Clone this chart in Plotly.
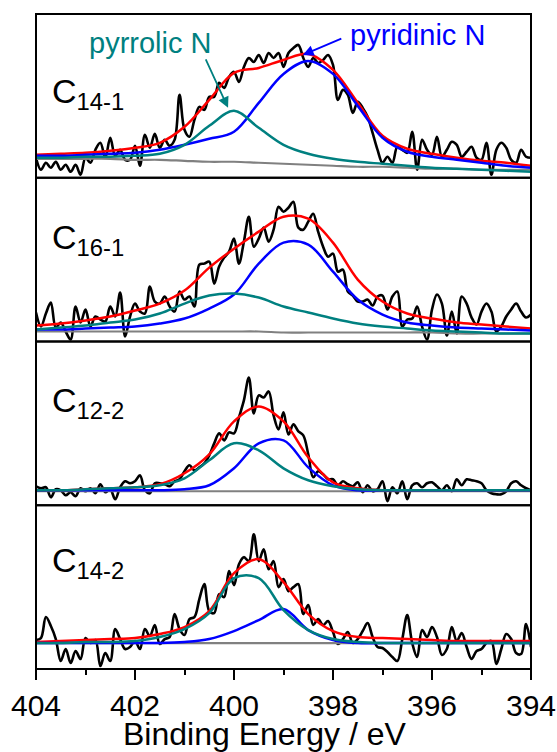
import numpy as np
import plotly.graph_objects as go
from plotly.subplots import make_subplots

# Binding energy grids (eV)
energy_raw = np.round(np.linspace(404, 394, 101), 2)
energy_fit = np.round(np.linspace(404, 394, 21), 2)

sample_labels = ["C<sub>14-1</sub>", "C<sub>16-1</sub>", "C<sub>12-2</sub>", "C<sub>14-2</sub>"]

# Raw N1s intensity (a.u.), one value per 0.1 eV from 404 to 394
raw_c14_1 = [20,8,15,10,16,8,13,6,13,3, 20,15,28,35,20,40,22,28,18,18,
             32,12,43,30,44,30,38,32,38,83, 48,41,58,71,68,81,81,95,90,101,
             106,96,111,120,116,123,115,125,120,125, 111,125,130,133,120,111,120,115,118,123,
             113,78,88,83,65,76,70,61,45,28, 15,21,15,31,28,25,46,8,38,28,
             23,41,21,28,36,33,21,26,31,20, 18,35,3,28,35,30,18,15,28,21, 20]
raw_c16_1 = [29,15,28,39,14,19,10,2,35,19, 32,15,25,22,20,35,25,49,5,25,
             38,30,28,55,40,38,45,35,30,50, 42,45,35,77,78,80,58,75,84,90,
             103,78,100,125,95,103,114,100,112,135, 130,134,140,114,112,120,128,110,95,85,
             88,70,72,50,46,40,40,42,36,45, 46,32,45,50,15,22,23,35,15,2,
             32,47,38,6,30,8,45,38,24,17, 30,38,30,10,15,25,32,38,30,24, 27]
raw_c12_2 = [19,17,18,8,16,15,10,13,9,17, 14,17,12,21,13,16,6,18,24,22,
             24,30,15,12,22,22,21,19,24,26, 34,40,35,38,42,50,62,72,65,73,
             72,88,105,128,92,110,108,114,90,76, 93,71,81,74,70,51,28,34,31,26,
             26,20,24,21,19,23,13,20,14,16, 24,4,18,12,24,6,20,22,18,22,
             23,19,15,20,14,26,20,26,25,24, 22,15,12,11,11,14,22,24,20,17, 15]
raw_c14_2 = [29,31,52,43,30,8,20,6,18,10, 31,26,29,3,16,8,40,30,20,22,
             28,20,40,33,44,25,30,32,55,40, 34,50,52,70,85,58,56,75,72,98,
             84,105,112,108,135,108,120,100,108,82, 90,78,82,85,55,64,44,50,44,48,
             37,25,30,37,26,30,38,46,32,22, 21,17,12,8,30,54,26,12,39,32,
             42,32,14,20,42,28,36,22,10,18, 20,26,28,5,20,35,30,16,15,45, 22]

# Fitted curves, one value per 0.5 eV from 404 to 394
fit_c14_1 = [23,24,25,27,30,35,51,78,105,110,118,124,108,75,42,29,24,20,17,15,12]
pyridinic_c14_1 = [22,22,23,24,25,28,33,39,46,75,104,117,104,72,40,26,21,18,15,12,10]
pyrrolic_c14_1 = [20,20,21,21,22,24,33,52,67,50,33,24,19,16,14,12,10,9,8,7,6]
background_c14_1 = [19,19,19,19,18,18,17,16,16,15,14,13,12,11,11,10,9,9,8,8,8]

fit_c16_1 = [16,18,21,25,31,38,51,74,93,110,125,123,99,62,40,28,23,19,17,15,13]
pyridinic_c16_1 = [12,12,13,14,15,18,23,33,47,78,99,97,70,42,27,19,16,14,13,12,11]
pyrrolic_c16_1 = [12,14,16,19,22,28,38,46,48,44,35,29,23,18,15,13,11,10,9,8,8]
background_c16_1 = [10,10,10,10,10,10,10,10,10,10,9,9,9,9,9,9,9,8,8,8,8]

fit_c12_2 = [15,15,16,17,18,21,32,51,84,99,84,48,23,17,15,15,15,15,15,15,15]
pyridinic_c12_2 = [15,15,15,15,15,15,16,20,37,62,65,38,20,15,15,15,15,15,15,15,15]
pyrrolic_c12_2 = [15,15,16,17,18,20,27,45,62,55,37,25,19,16,15,15,15,15,15,15,15]
background_c12_2 = [14]*21

fit_c14_2 = [27,28,29,30,31,35,42,58,96,110,87,55,38,32,31,30,29,28,28,28,28]
pyridinic_c14_2 = [26,26,26,26,26,26,27,30,38,49,60,39,29,26,26,26,26,26,26,26,26]
pyrrolic_c14_2 = [26,26,27,27,28,32,40,56,91,91,59,39,30,27,26,26,26,26,26,26,26]
background_c14_2 = [26]*21

panels = [
    (raw_c14_1, background_c14_1, fit_c14_1, pyridinic_c14_1, pyrrolic_c14_1),
    (raw_c16_1, background_c16_1, fit_c16_1, pyridinic_c16_1, pyrrolic_c16_1),
    (raw_c12_2, background_c12_2, fit_c12_2, pyridinic_c12_2, pyrrolic_c12_2),
    (raw_c14_2, background_c14_2, fit_c14_2, pyridinic_c14_2, pyrrolic_c14_2),
]

TEAL = "#008080"
BLUE = "#0000FF"
RED = "#FF0000"
GRAY = "#808080"
FONT = "Liberation Sans, Arial, sans-serif"

fig = make_subplots(rows=4, cols=1, shared_xaxes=True, vertical_spacing=0)

for r, (raw, bg, fit, pyr_d, pyr_l) in enumerate(panels, start=1):
    fig.add_trace(go.Scatter(x=energy_raw, y=raw, mode="lines",
                             line=dict(color="black", width=2.6, shape="spline", smoothing=1.0)),
                  row=r, col=1)
    fig.add_trace(go.Scatter(x=energy_fit, y=bg, mode="lines",
                             line=dict(color=GRAY, width=2.2, shape="spline")), row=r, col=1)
    fig.add_trace(go.Scatter(x=energy_fit, y=fit, mode="lines",
                             line=dict(color=RED, width=2.5, shape="spline")), row=r, col=1)
    fig.add_trace(go.Scatter(x=energy_fit, y=pyr_d, mode="lines",
                             line=dict(color=BLUE, width=2.5, shape="spline")), row=r, col=1)
    fig.add_trace(go.Scatter(x=energy_fit, y=pyr_l, mode="lines",
                             line=dict(color=TEAL, width=2.5, shape="spline")), row=r, col=1)

fig.update_xaxes(range=[404, 394], showline=False, showgrid=False, zeroline=False,
                 ticks="", showticklabels=False)
fig.update_xaxes(row=4, col=1, ticks="outside", ticklen=10, tickwidth=1.5, tickcolor="black",
                 tickvals=[404, 402, 400, 398, 396, 394], showticklabels=True,
                 tickfont=dict(size=30, family=FONT, color="black"),
                 minor=dict(tickvals=[403, 401, 399, 397, 395], ticks="outside", ticklen=5,
                            tickwidth=1.5, tickcolor="black"))
fig.update_yaxes(range=[0, 164], showline=False, showgrid=False, zeroline=False,
                 showticklabels=False, ticks="")

# panel frames
shapes = []
for r in range(1, 5):
    sfx = "" if r == 1 else str(r)
    shapes.append(dict(type="rect", xref="x" + sfx + " domain", yref="y" + sfx + " domain",
                       x0=0, x1=1, y0=0, y1=1, line=dict(color="black", width=2),
                       fillcolor="rgba(0,0,0,0)", layer="above"))

label_y = [84, 102, 103, 107]
annotations = []
for r, (lab, ly) in enumerate(zip(sample_labels, label_y), start=1):
    sfx = "" if r == 1 else str(r)
    annotations.append(dict(x=403.72, y=ly, xref="x" + sfx, yref="y" + sfx, text=lab,
                            showarrow=False, xanchor="left", yanchor="middle",
                            font=dict(size=34, family=FONT, color="black")))

annotations += [
    dict(x=401.70, y=135, xref="x", yref="y", text="pyrrolic N", showarrow=False,
         font=dict(size=29, family=FONT, color=TEAL)),
    dict(x=396.29, y=143, xref="x", yref="y", text="pyridinic N", showarrow=False,
         font=dict(size=29, family=FONT, color=BLUE)),
    dict(x=400.12, y=70, xref="x", yref="y", text="", showarrow=True, ax=-23, ay=-50,
         arrowhead=2, arrowsize=1.2, arrowwidth=1.8, arrowcolor=TEAL),
    dict(x=398.61, y=123, xref="x", yref="y", text="", showarrow=True, ax=40, ay=-17,
         arrowhead=2, arrowsize=1.2, arrowwidth=1.8, arrowcolor=BLUE),
    dict(x=(265 - 36) / 495, y=-(734 - 669) / 655, xref="paper", yref="paper",
         text="Binding Energy / eV", showarrow=False, xanchor="center", yanchor="middle",
         font=dict(size=32, family=FONT, color="black")),
]

fig.update_layout(width=557, height=752,
                  margin=dict(l=36, r=26, t=14, b=83, autoexpand=False),
                  plot_bgcolor="white", paper_bgcolor="white", showlegend=False,
                  annotations=annotations, shapes=shapes)

fig.write_html("out.html")
